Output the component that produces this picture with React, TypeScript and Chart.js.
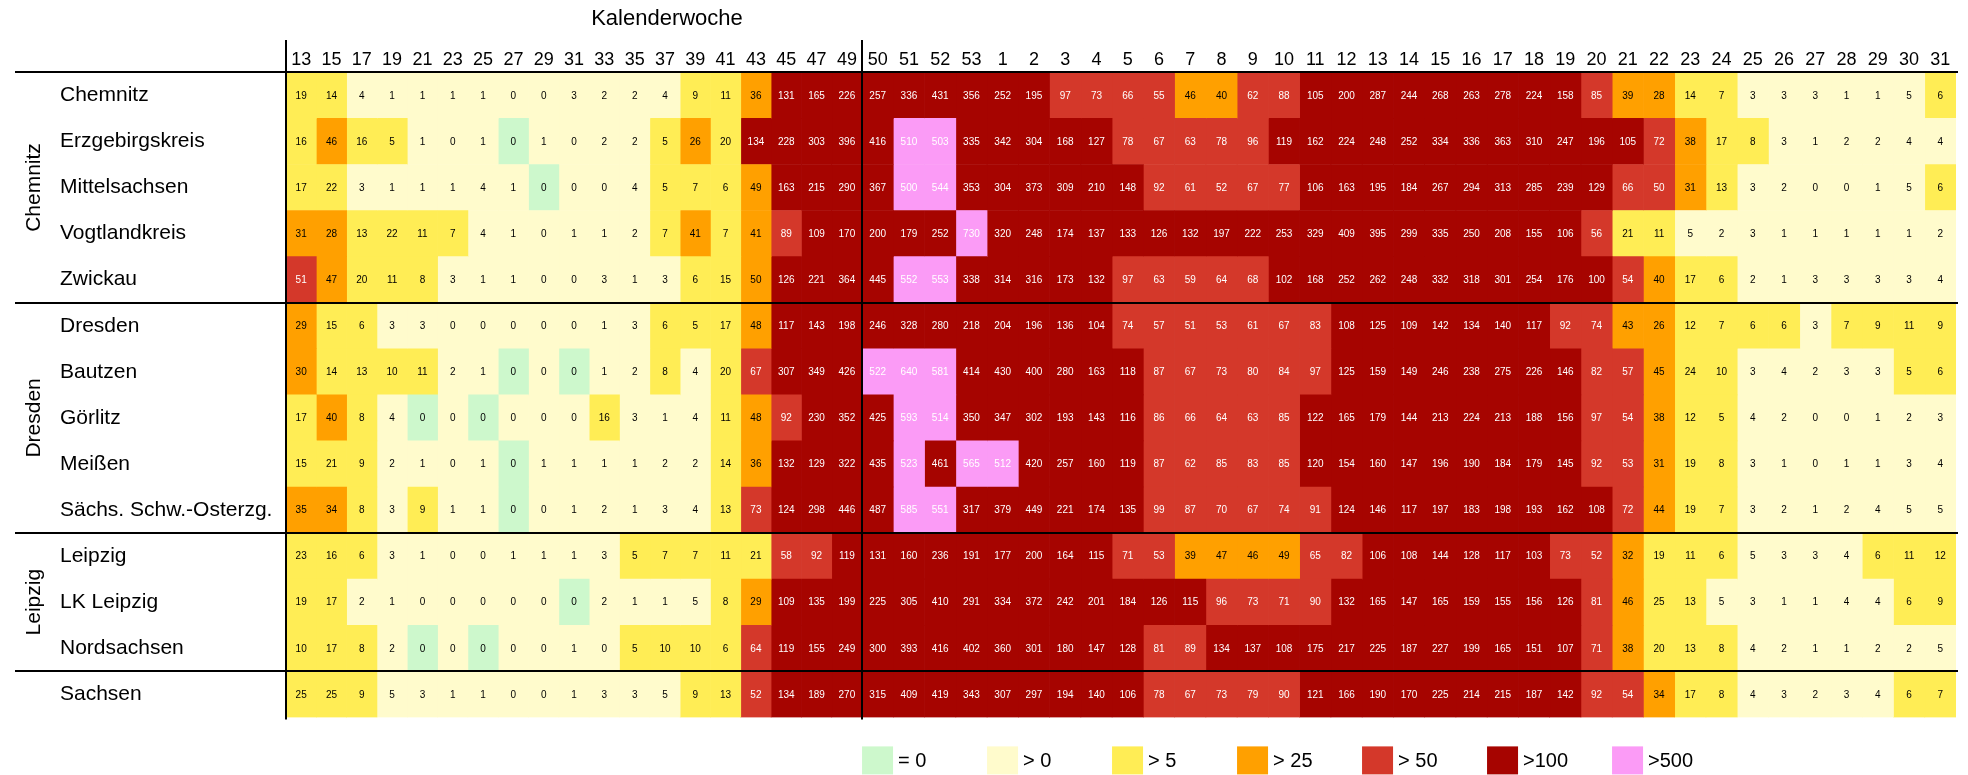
import React, { useEffect, useRef } from 'react';
import { Chart, registerables } from 'chart.js';

Chart.register(...registerables);

// ---------- data ----------
const weekLabels = [
  '13', '15', '17', '19', '21', '23', '25', '27', '29', '31', '33', '35', '37', '39', '41', '43', '45', '47', '49',
  '50', '51', '52', '53', '1', '2', '3', '4', '5', '6', '7', '8', '9', '10', '11', '12', '13', '14', '15', '16',
  '17', '18', '19', '20', '21', '22', '23', '24', '25', '26', '27', '28', '29', '30', '31',
];

const regionLabels = [
  'Chemnitz', 'Erzgebirgskreis', 'Mittelsachsen', 'Vogtlandkreis', 'Zwickau',
  'Dresden', 'Bautzen', 'Görlitz', 'Meißen', 'Sächs. Schw.-Osterzg.',
  'Leipzig', 'LK Leipzig', 'Nordsachsen', 'Sachsen',
];

const groupNames = ['Chemnitz', 'Dresden', 'Leipzig'];
const groupFirstRow = [0, 5, 10];
const groupLastRow = [4, 9, 12];

const legendLabels = ['= 0', '> 0', '> 5', '> 25', '> 50', '>100', '>500'];
const classColors = ['#CDF8CC', '#FFFBCC', '#FFED55', '#FFA000', '#D4382A', '#A60400', '#FB9BF6'];

const chemnitz = [19, 14, 4, 1, 1, 1, 1, 0.3, 0.3, 3, 2, 2, 4, 9, 11, 36, 131, 165, 226,
  257, 336, 431, 356, 252, 195, 97, 73, 66, 55, 46, 40, 62, 88, 105, 200, 287, 244,
  268, 263, 278, 224, 158, 85, 39, 28, 14, 7, 3, 3, 3, 1, 1, 5, 6];
const erzgebirgskreis = [16, 46, 16, 5.3, 1, 0.3, 1, 0, 1, 0.3, 2, 2, 5.3, 26, 20, 134, 228, 303, 396,
  416, 510, 503, 335, 342, 304, 168, 127, 78, 67, 63, 78, 96, 119, 162, 224, 248, 252,
  334, 336, 363, 310, 247, 196, 105, 72, 38, 17, 8, 3, 1, 2, 2, 4, 4];
const mittelsachsen = [17, 22, 3, 1, 1, 1, 4, 1, 0, 0.3, 0.3, 4, 5.3, 7, 6, 49, 163, 215, 290,
  367, 500.4, 544, 353, 304, 373, 309, 210, 148, 92, 61, 52, 67, 77, 106, 163, 195, 184,
  267, 294, 313, 285, 239, 129, 66, 50.4, 31, 13, 3, 2, 0.3, 0.3, 1, 5, 6];
const vogtlandkreis = [31, 28, 13, 22, 11, 7, 4, 1, 0.3, 1, 1, 2, 7, 41, 7, 41, 89, 109, 170,
  200, 179, 252, 730, 320, 248, 174, 137, 133, 126, 132, 197, 222, 253, 329, 409, 395, 299,
  335, 250, 208, 155, 106, 56, 21, 11, 5, 2, 3, 1, 1, 1, 1, 1, 2];
const zwickau = [51, 47, 20, 11, 8, 3, 1, 1, 0.3, 0.3, 3, 1, 3, 6, 15, 50, 126, 221, 364,
  445, 552, 553, 338, 314, 316, 173, 132, 97, 63, 59, 64, 68, 102, 168, 252, 262, 248,
  332, 318, 301, 254, 176, 100.4, 54, 40, 17, 6, 2, 1, 3, 3, 3, 3, 4];
const dresden = [29, 15, 6, 3, 3, 0.3, 0.3, 0.3, 0.3, 0.3, 1, 3, 6, 5.3, 17, 48, 117, 143, 198,
  246, 328, 280, 218, 204, 196, 136, 104, 74, 57, 51, 53, 61, 67, 83, 108, 125, 109,
  142, 134, 140, 117, 92, 74, 43, 26, 12, 7, 6, 6, 3, 7, 9, 11, 9];
const bautzen = [30, 14, 13, 10, 11, 2, 1, 0, 0.3, 0, 1, 2, 8, 4, 20, 67, 307, 349, 426,
  522, 640, 581, 414, 430, 400, 280, 163, 118, 87, 67, 73, 80, 84, 97, 125, 159, 149,
  246, 238, 275, 226, 146, 82, 57, 45, 24, 10, 3, 4, 2, 3, 3, 5.3, 6];
const goerlitz = [17, 40, 8, 4, 0, 0.3, 0, 0.3, 0.3, 0.3, 16, 3, 1, 4, 11, 48, 92, 230, 352,
  425, 593, 514, 350, 347, 302, 193, 143, 116, 86, 66, 64, 63, 85, 122, 165, 179, 144,
  213, 224, 213, 188, 156, 97, 54, 38, 12, 5.3, 4, 2, 0.3, 0.3, 1, 2, 3];
const meissen = [15, 21, 9, 2, 1, 0.3, 1, 0, 1, 1, 1, 1, 2, 2, 14, 36, 132, 129, 322,
  435, 523, 461, 565, 512, 420, 257, 160, 119, 87, 62, 85, 83, 85, 120, 154, 160, 147,
  196, 190, 184, 179, 145, 92, 53, 31, 19, 8, 3, 1, 0.3, 1, 1, 3, 4];
const saechsSchweiz = [35, 34, 8, 3, 9, 1, 1, 0, 0.3, 1, 2, 1, 3, 4, 13, 73, 124, 298, 446,
  487, 585, 551, 317, 379, 449, 221, 174, 135, 99, 87, 70, 67, 74, 91, 124, 146, 117,
  197, 183, 198, 193, 162, 108, 72, 44, 19, 7, 3, 2, 1, 2, 4, 5, 5];
const leipzig = [23, 16, 6, 3, 1, 0.3, 0.3, 1, 1, 1, 3, 5.3, 7, 7, 11, 21, 58, 92, 119,
  131, 160, 236, 191, 177, 200, 164, 115, 71, 53, 39, 47, 46, 49, 65, 82, 106, 108,
  144, 128, 117, 103, 73, 52, 32, 19, 11, 6, 5, 3, 3, 4, 6, 11, 12];
const lkLeipzig = [19, 17, 2, 1, 0.3, 0.3, 0.3, 0.3, 0.3, 0, 2, 1, 1, 5, 8, 29, 109, 135, 199,
  225, 305, 410, 291, 334, 372, 242, 201, 184, 126, 115, 96, 73, 71, 90, 132, 165, 147,
  165, 159, 155, 156, 126, 81, 46, 25, 13, 5, 3, 1, 1, 4, 4, 6, 9];
const nordsachsen = [10, 17, 8, 2, 0, 0.3, 0, 0.3, 0.3, 1, 0.3, 5.3, 10, 10, 6, 64, 119, 155, 249,
  300, 393, 416, 402, 360, 301, 180, 147, 128, 81, 89, 134, 137, 108, 175, 217, 225, 187,
  227, 199, 165, 151, 107, 71, 38, 20, 13, 8, 4, 2, 1, 1, 2, 2, 5];
const sachsen = [25, 25, 9, 5, 3, 1, 1, 0.3, 0.3, 1, 3, 3, 5, 9, 13, 52, 134, 189, 270,
  315, 409, 419, 343, 307, 297, 194, 140, 106, 78, 67, 73, 79, 90, 121, 166, 190, 170,
  225, 214, 215, 187, 142, 92, 54, 34, 17, 8, 4, 3, 2, 3, 4, 6, 7];

const rows = [chemnitz, erzgebirgskreis, mittelsachsen, vogtlandkreis, zwickau,
  dresden, bautzen, goerlitz, meissen, saechsSchweiz, leipzig, lkLeipzig, nordsachsen, sachsen];

// ---------- layout constants ----------
const FONT = '"Liberation Sans", Arial, Helvetica, sans-serif';
const SPLIT_INDEX = weekLabels.indexOf('50'); // first column of second block
const LEFT_SPAN = 0.97; // bi-weekly columns are slightly narrower
const colSpan = (i: number) => (i < SPLIT_INDEX ? LEFT_SPAN : 1);
const colStart = (i: number) => (i < SPLIT_INDEX ? i * LEFT_SPAN : SPLIT_INDEX * LEFT_SPAN + (i - SPLIT_INDEX));
const TOTAL = colStart(weekLabels.length);

function classOf(v: number) {
  if (v === 0) return 0;
  if (v <= 5) return 1;
  if (v <= 25) return 2;
  if (v <= 50) return 3;
  if (v <= 100) return 4;
  if (v <= 500) return 5;
  return 6;
}

const overlay = {
  id: 'overlay',
  afterDatasetsDraw(chart: any) {
    const ctx = chart.ctx as CanvasRenderingContext2D;
    const xs = chart.scales.x;
    const ys = chart.scales.y;
    ctx.save();

    // cell values
    ctx.font = `10px ${FONT}`;
    ctx.textAlign = 'center';
    ctx.textBaseline = 'middle';
    weekLabels.forEach((_, c) => {
      const meta = chart.getDatasetMeta(c);
      meta.data.forEach((el: any, r: number) => {
        const v = rows[r][c];
        const p = el.getCenterPoint();
        ctx.fillStyle = classOf(v) >= 4 ? '#FFFFFF' : '#000000';
        ctx.fillText(String(Math.round(v)), p.x, p.y + 0.5);
      });
    });

    // lines
    const band = (ys.bottom - ys.top) / regionLabels.length;
    const rowTop = (r: number) => ys.getPixelForValue(r) - band / 2;
    ctx.strokeStyle = '#000000';
    ctx.lineWidth = 2;
    const sepRows = [0, ...groupLastRow.map((g) => g + 1)];
    sepRows.forEach((r) => {
      const yy = Math.round(rowTop(r));
      ctx.beginPath();
      ctx.moveTo(15, yy);
      ctx.lineTo(xs.right + 2, yy);
      ctx.stroke();
    });
    [0, SPLIT_INDEX].forEach((c) => {
      const xx = Math.round(xs.getPixelForValue(colStart(c)));
      ctx.beginPath();
      ctx.moveTo(xx, 40);
      ctx.lineTo(xx, ys.bottom + 2);
      ctx.stroke();
    });

    // group labels
    ctx.fillStyle = '#000000';
    ctx.font = `21px ${FONT}`;
    ctx.textAlign = 'center';
    ctx.textBaseline = 'middle';
    groupNames.forEach((g, i) => {
      const yc = (rowTop(groupFirstRow[i]) + rowTop(groupLastRow[i] + 1)) / 2;
      ctx.save();
      ctx.translate(34, yc);
      ctx.rotate(-Math.PI / 2);
      ctx.fillText(g, 0, 0);
      ctx.restore();
    });

    // title
    ctx.font = `22px ${FONT}`;
    ctx.textAlign = 'center';
    ctx.fillText('Kalenderwoche', xs.left + 381, 19);

    // legend
    const lx0 = xs.getPixelForValue(colStart(SPLIT_INDEX));
    const ly = ys.bottom + 29;
    ctx.font = `20px ${FONT}`;
    ctx.textAlign = 'left';
    legendLabels.forEach((lab, i) => {
      const x0 = lx0 + i * 125;
      ctx.fillStyle = classColors[i];
      ctx.fillRect(x0, ly, 31, 28);
      ctx.fillStyle = '#000000';
      ctx.fillText(lab, x0 + 36, ly + 15);
    });

    ctx.restore();
  },
};

export default function App() {
  const canvasRef = useRef<HTMLCanvasElement | null>(null);

  useEffect(() => {
    if (!canvasRef.current) return;
    const datasets = weekLabels.map((w, c) => ({
      label: w,
      data: rows.map(() => colSpan(c)),
      backgroundColor: rows.map((r) => classColors[classOf(r[c])]),
      borderWidth: 0,
      barPercentage: 1,
      categoryPercentage: 1,
    }));

    const chart = new Chart(canvasRef.current, {
      type: 'bar',
      data: { labels: regionLabels, datasets },
      options: {
        indexAxis: 'y',
        animation: false,
        responsive: false,
        devicePixelRatio: 1,
        layout: { padding: { left: 60, right: 12, top: 0, bottom: 57.6 } },
        plugins: { legend: { display: false }, tooltip: { enabled: false }, title: { display: false } },
        scales: {
          x: {
            type: 'linear',
            position: 'top',
            stacked: true,
            min: 0,
            max: TOTAL,
            grid: { display: false, drawTicks: false, tickLength: 0 },
            border: { display: false },
            ticks: {
              autoSkip: false,
              maxRotation: 0,
              minRotation: 0,
              padding: 1,
              color: '#000000',
              font: { family: FONT, size: 18 },
              callback: (_v: any, i: number) => weekLabels[i],
            },
            afterBuildTicks: (scale: any) => {
              scale.ticks = weekLabels.map((_, i) => ({ value: colStart(i) + colSpan(i) / 2 }));
            },
            afterFit: (scale: any) => {
              scale.height = 72.3;
            },
          },
          y: {
            type: 'category',
            position: 'left',
            stacked: true,
            grid: { display: false, drawTicks: false, tickLength: 0 },
            border: { display: false },
            ticks: {
              crossAlign: 'far',
              color: '#000000',
              font: { family: FONT, size: 21 },
              padding: 0,
            },
            afterFit: (scale: any) => {
              scale.width = 226;
            },
          },
        },
      },
      plugins: [overlay],
    } as any);

    return () => chart.destroy();
  }, []);

  return (
    <div style={{ position: 'absolute', left: 0, top: 0, width: 1968, height: 775, background: '#fff' }}>
      <canvas ref={canvasRef} width={1968} height={775} style={{ display: 'block' }} />
    </div>
  );
}
